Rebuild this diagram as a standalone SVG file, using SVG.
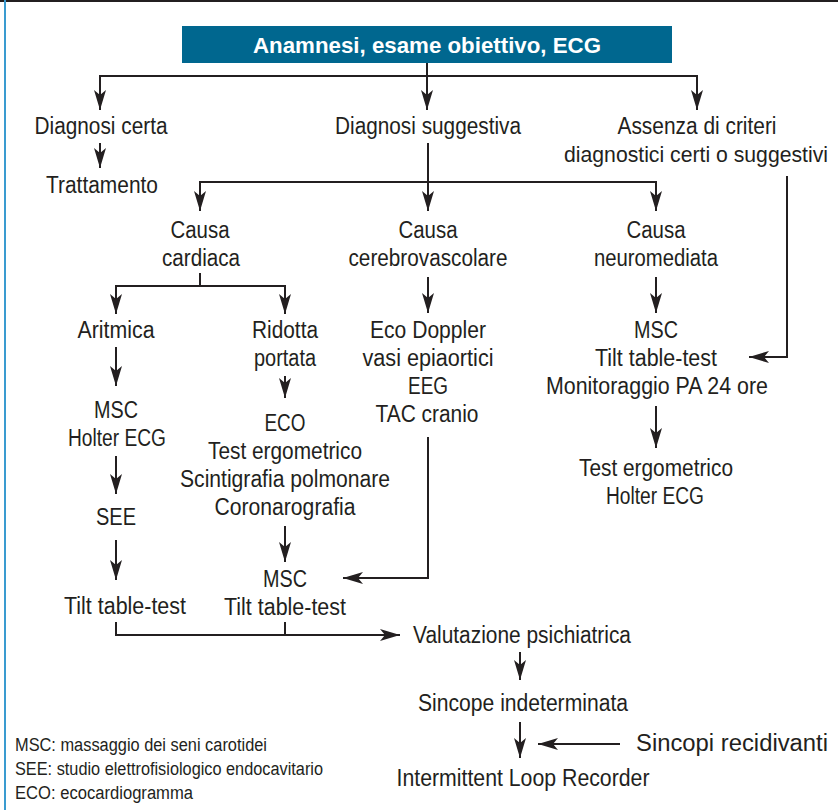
<svg xmlns="http://www.w3.org/2000/svg" width="838" height="810" viewBox="0 0 838 810">
<style>
.t{font-family:"Liberation Sans",Arial,sans-serif;font-size:23px;fill:#231f20;text-anchor:middle}
.h{font-family:"Liberation Sans",Arial,sans-serif;font-size:22px;font-weight:bold;fill:#ffffff;text-anchor:middle}
.l{font-family:"Liberation Sans",Arial,sans-serif;font-size:18px;fill:#231f20;text-anchor:start}
.c{fill:none;stroke:#231f20;stroke-width:2}
.a{marker-end:url(#arr)}
</style>
<defs>
<marker id="arr" viewBox="0 0 20 12" refX="20" refY="6" markerWidth="20" markerHeight="12" markerUnits="userSpaceOnUse" orient="auto">
<path d="M0,0 L20,6 L0,12 L5,6 Z" fill="#231f20"/>
</marker>
</defs>
<rect width="838" height="810" fill="#ffffff"/>
<line x1="0" y1="1" x2="838" y2="1" stroke="#231f20" stroke-width="2"/>
<line x1="5" y1="0" x2="5" y2="810" stroke="#3a9bd0" stroke-width="2"/>

<g id="connectors">
<line class="c a" x1="427" y1="63" x2="427" y2="110"/>
<polyline class="c" points="100,110 100,76 697,76 697,110"/>
<line class="c a" x1="100" y1="90" x2="100" y2="110"/>
<line class="c a" x1="697" y1="90" x2="697" y2="110"/>
<line class="c a" x1="100" y1="143" x2="100" y2="168"/>
<line class="c a" x1="428" y1="143" x2="428" y2="211"/>
<polyline class="c" points="200,211 200,182 656,182 656,211"/>
<line class="c a" x1="200" y1="195" x2="200" y2="211"/>
<line class="c a" x1="656" y1="195" x2="656" y2="211"/>
<polyline class="c a" points="787,176 787,357 749,357"/>
<polyline class="c" points="200,273 200,286"/>
<polyline class="c" points="116,314 116,286 285,286 285,314"/>
<line class="c a" x1="116" y1="298" x2="116" y2="314"/>
<line class="c a" x1="285" y1="298" x2="285" y2="314"/>
<line class="c a" x1="428" y1="277" x2="428" y2="313"/>
<line class="c a" x1="656" y1="277" x2="656" y2="313"/>
<line class="c a" x1="656" y1="406" x2="656" y2="448"/>
<line class="c a" x1="116" y1="347" x2="116" y2="386"/>
<line class="c a" x1="116" y1="456" x2="116" y2="494"/>
<line class="c a" x1="116" y1="540" x2="116" y2="580"/>
<line class="c a" x1="285" y1="376" x2="285" y2="398"/>
<line class="c a" x1="285" y1="526" x2="285" y2="562"/>
<polyline class="c a" points="428,437 428,578 343,578"/>
<polyline class="c a" points="116,622 116,635 400,635"/>
<line class="c" x1="285" y1="622" x2="285" y2="635"/>
<line class="c a" x1="520" y1="652" x2="520" y2="680"/>
<line class="c a" x1="520" y1="722" x2="520" y2="758"/>
<line class="c a" x1="620" y1="744" x2="538" y2="744"/>
</g>

<g id="n-header">
<rect x="182" y="26" width="490" height="37" fill="#00678f"/>
<text class="h" x="427" y="53" textLength="348" lengthAdjust="spacingAndGlyphs">Anamnesi, esame obiettivo, ECG</text>
</g>
<g id="n-certa"><text class="t" x="101" y="134" textLength="133" lengthAdjust="spacingAndGlyphs">Diagnosi certa</text></g>
<g id="n-suggestiva"><text class="t" x="428" y="134" textLength="186" lengthAdjust="spacingAndGlyphs">Diagnosi suggestiva</text></g>
<g id="n-assenza">
<text class="t" x="697" y="134" textLength="159" lengthAdjust="spacingAndGlyphs">Assenza di criteri</text>
<text class="t" x="696" y="162" style="font-size:22px" textLength="264" lengthAdjust="spacingAndGlyphs">diagnostici certi o suggestivi</text>
</g>
<g id="n-trattamento"><text class="t" x="102" y="193" textLength="112" lengthAdjust="spacingAndGlyphs">Trattamento</text></g>
<g id="n-cardiaca">
<text class="t" x="200" y="238" textLength="59" lengthAdjust="spacingAndGlyphs">Causa</text>
<text class="t" x="201" y="266" textLength="78" lengthAdjust="spacingAndGlyphs">cardiaca</text>
</g>
<g id="n-cerebro">
<text class="t" x="428" y="238" textLength="59" lengthAdjust="spacingAndGlyphs">Causa</text>
<text class="t" x="428" y="266" textLength="159" lengthAdjust="spacingAndGlyphs">cerebrovascolare</text>
</g>
<g id="n-neuro">
<text class="t" x="656" y="238" textLength="59" lengthAdjust="spacingAndGlyphs">Causa</text>
<text class="t" x="656" y="266" textLength="124" lengthAdjust="spacingAndGlyphs">neuromediata</text>
</g>
<g id="n-aritmica"><text class="t" x="116" y="338" textLength="77" lengthAdjust="spacingAndGlyphs">Aritmica</text></g>
<g id="n-ridotta">
<text class="t" x="285" y="338" textLength="66" lengthAdjust="spacingAndGlyphs">Ridotta</text>
<text class="t" x="285" y="366" textLength="62" lengthAdjust="spacingAndGlyphs">portata</text>
</g>
<g id="n-eco-doppler">
<text class="t" x="428" y="338" textLength="116" lengthAdjust="spacingAndGlyphs">Eco Doppler</text>
<text class="t" x="428" y="366" textLength="131" lengthAdjust="spacingAndGlyphs">vasi epiaortici</text>
<text class="t" x="428" y="394" textLength="40" lengthAdjust="spacingAndGlyphs">EEG</text>
<text class="t" x="427" y="422" textLength="103" lengthAdjust="spacingAndGlyphs">TAC cranio</text>
</g>
<g id="n-msc-neuro">
<text class="t" x="656" y="338" textLength="44" lengthAdjust="spacingAndGlyphs">MSC</text>
<text class="t" x="656" y="366" textLength="122" lengthAdjust="spacingAndGlyphs">Tilt table-test</text>
<text class="t" x="657" y="394" textLength="222" lengthAdjust="spacingAndGlyphs">Monitoraggio PA 24 ore</text>
</g>
<g id="n-test-right">
<text class="t" x="656" y="476" textLength="154" lengthAdjust="spacingAndGlyphs">Test ergometrico</text>
<text class="t" x="655" y="504" textLength="98" lengthAdjust="spacingAndGlyphs">Holter ECG</text>
</g>
<g id="n-msc-holter">
<text class="t" x="116" y="418" textLength="44" lengthAdjust="spacingAndGlyphs">MSC</text>
<text class="t" x="117" y="446" textLength="98" lengthAdjust="spacingAndGlyphs">Holter ECG</text>
</g>
<g id="n-see"><text class="t" x="116" y="525" textLength="40" lengthAdjust="spacingAndGlyphs">SEE</text></g>
<g id="n-tilt-left"><text class="t" x="125" y="614" textLength="122" lengthAdjust="spacingAndGlyphs">Tilt table-test</text></g>
<g id="n-eco">
<text class="t" x="285" y="431" textLength="41" lengthAdjust="spacingAndGlyphs">ECO</text>
<text class="t" x="285" y="459" textLength="154" lengthAdjust="spacingAndGlyphs">Test ergometrico</text>
<text class="t" x="285" y="487" textLength="210" lengthAdjust="spacingAndGlyphs">Scintigrafia polmonare</text>
<text class="t" x="285" y="515" textLength="141" lengthAdjust="spacingAndGlyphs">Coronarografia</text>
</g>
<g id="n-msc-tilt">
<text class="t" x="285" y="587" textLength="44" lengthAdjust="spacingAndGlyphs">MSC</text>
<text class="t" x="285" y="615" textLength="122" lengthAdjust="spacingAndGlyphs">Tilt table-test</text>
</g>
<g id="n-valutazione"><text class="t" x="522" y="643" textLength="218" lengthAdjust="spacingAndGlyphs">Valutazione psichiatrica</text></g>
<g id="n-indeterminata"><text class="t" x="523" y="711" textLength="210" lengthAdjust="spacingAndGlyphs">Sincope indeterminata</text></g>
<g id="n-recidivanti"><text class="t" x="732" y="751" textLength="192" lengthAdjust="spacingAndGlyphs">Sincopi recidivanti</text></g>
<g id="n-ilr"><text class="t" x="523" y="786" textLength="253" lengthAdjust="spacingAndGlyphs">Intermittent Loop Recorder</text></g>
<g id="legend">
<text class="l" x="15" y="751" textLength="252" lengthAdjust="spacingAndGlyphs">MSC: massaggio dei seni carotidei</text>
<text class="l" x="15" y="775" textLength="308" lengthAdjust="spacingAndGlyphs">SEE: studio elettrofisiologico endocavitario</text>
<text class="l" x="15" y="799" textLength="178" lengthAdjust="spacingAndGlyphs">ECO: ecocardiogramma</text>
</g>
</svg>
